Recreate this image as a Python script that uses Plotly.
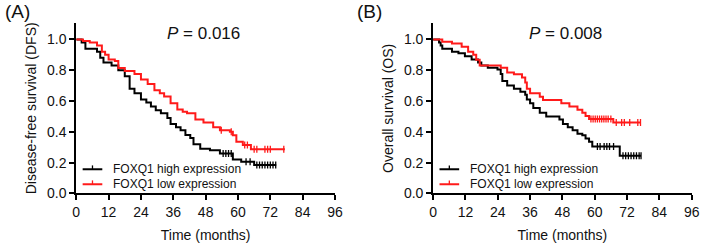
import numpy as np
import plotly.graph_objects as go

# ---------------- data ----------------
# Panel A: disease-free survival (step curves: time of drop, survival after drop; last = end of follow-up)
a_high_t = [0, 2, 3.4, 7.7, 8.9, 10.1, 13.1, 15.6, 18, 19.8, 21.6, 24, 26, 27.7, 29.5, 31.4, 33.8, 35, 37,
            38.7, 40.5, 42.3, 43.5, 46, 49.6, 53.3, 58.1, 61.2, 66, 74.2]
a_high_s = [1.0, 0.98, 0.94, 0.92, 0.88, 0.85, 0.83, 0.80, 0.76, 0.68, 0.65, 0.61, 0.59, 0.565, 0.54, 0.52, 0.49,
            0.45, 0.43, 0.41, 0.38, 0.36, 0.32, 0.29, 0.28, 0.26, 0.22, 0.205, 0.184, 0.184]
a_low_t = [0, 2.5, 5, 7.7, 9.5, 10.7, 12, 14.3, 15.6, 18, 21.6, 24, 26.5, 29, 31, 32.6, 35, 37.5, 39.5, 41.1,
           44.2, 47.2, 50.8, 53.3, 57, 58.1, 59.4, 61.8, 64.8, 77.4]
a_low_s = [1.0, 0.99, 0.98, 0.96, 0.92, 0.90, 0.87, 0.86, 0.815, 0.795, 0.775, 0.74, 0.71, 0.67, 0.65, 0.63,
           0.585, 0.545, 0.53, 0.52, 0.48, 0.46, 0.43, 0.41, 0.40, 0.377, 0.335, 0.314, 0.287, 0.287]
a_high_cens = [54.5, 55.5, 56.5, 57.5, 63, 64.5, 67, 68, 69, 70, 71, 72, 73, 74]
a_low_cens = [53.8, 57.5, 62.5, 63.5, 66, 67, 70, 71, 72, 77]

# Panel B: overall survival
b_high_t = [0, 2.2, 2.8, 3.4, 7, 9.4, 11.8, 14.3, 16.7, 17.9, 20.3, 23.9, 25.1, 25.7, 27.5, 30, 32.4, 34.2, 34.8,
            36, 37.2, 39.6, 42, 46.9, 48.2, 50, 51.8, 53.6, 55.4, 56.6, 57.9, 59.1, 69.3, 77.2]
b_high_s = [1.0, 0.98, 0.96, 0.94, 0.92, 0.91, 0.89, 0.87, 0.85, 0.83, 0.816, 0.805, 0.775, 0.73, 0.70, 0.68,
            0.66, 0.64, 0.61, 0.585, 0.555, 0.523, 0.50, 0.48, 0.45, 0.43, 0.41, 0.387, 0.377, 0.356, 0.335,
            0.305, 0.245, 0.245]
b_low_t = [0, 3.4, 7, 10.6, 13, 14.9, 16, 17.3, 25.1, 27.5, 30, 33, 34.2, 34.8, 36, 39.6, 40.8, 47.6, 50.6,
           53.6, 55.4, 56.6, 57.9, 66.9, 77]
b_low_s = [1.0, 0.985, 0.973, 0.952, 0.92, 0.90, 0.868, 0.83, 0.816, 0.785, 0.774, 0.753, 0.72, 0.68, 0.65,
           0.628, 0.607, 0.586, 0.565, 0.544, 0.523, 0.502, 0.483, 0.46, 0.46]
b_high_cens = [61, 62, 63.5, 64.5, 65.5, 67, 70.5, 71.5, 72.5, 73.5, 74.5, 75.5, 76.5, 77.2]
b_low_cens = [58.6, 59.4, 60.2, 61, 61.8, 62.6, 63.4, 64.2, 65, 66, 68, 70, 71, 73, 76, 77]

x_ticks = [0, 12, 24, 36, 48, 60, 72, 84, 96]
y_ticks = [0.0, 0.2, 0.4, 0.6, 0.8, 1.0]
series_names = ["FOXQ1 high expression", "FOXQ1 low expression"]
p_values = ["0.016", "0.008"]
y_titles = ["Disease-free survival (DFS)", "Overall survival (OS)"]
panel_labels = ["(A)", "(B)"]

# ---------------- styling ----------------
FONT = "Liberation Sans, Arial, sans-serif"
TXT = "#111111"
COLORS = ["#000000", "#ff1a1a"]
W, H = 709, 244


def step_value(t_list, s_list, t):
    idx = np.searchsorted(np.array(t_list), t, side="right") - 1
    return s_list[max(idx, 0)]


fig = go.Figure()
panels = [
    ([(a_high_t, a_high_s, a_high_cens), (a_low_t, a_low_s, a_low_cens)], "x", "y"),
    ([(b_high_t, b_high_s, b_high_cens), (b_low_t, b_low_s, b_low_cens)], "x2", "y2"),
]
for curves, xa, ya in panels:
    for i, (t, s, cens) in enumerate(curves):
        fig.add_trace(go.Scatter(x=t, y=s, mode="lines", line=dict(color=COLORS[i], width=2, shape="hv"),
                                 name=series_names[i], xaxis=xa, yaxis=ya, showlegend=False))
        fig.add_trace(go.Scatter(x=cens, y=[step_value(t, s, c) for c in cens], mode="markers",
                                 marker=dict(symbol="line-ns", size=5, line=dict(color=COLORS[i], width=1.3)),
                                 showlegend=False, hoverinfo="skip", xaxis=xa, yaxis=ya))

x_domains = [[73.5 / W, 336.7 / W], [436.5 / W, 699.5 / W]]
y_domain = [(H - 200) / H, (H - 24) / H]

axis_common = dict(showline=True, linecolor="black", linewidth=1.8, ticks="outside", ticklen=5, tickwidth=1.6,
                   tickcolor="black", showgrid=False, zeroline=False,
                   tickfont=dict(family=FONT, size=14, color=TXT))

layout = dict(width=W, height=H, margin=dict(l=0, r=0, t=0, b=0), plot_bgcolor="white", paper_bgcolor="white",
              font=dict(family=FONT, color=TXT), showlegend=False)
for k, (xa, ya) in enumerate([("xaxis", "yaxis"), ("xaxis2", "yaxis2")]):
    layout[xa] = dict(axis_common, domain=x_domains[k], range=[0, 96], tickvals=x_ticks,
                      anchor="y" if k == 0 else "y2",
                      title=dict(text="Time (months)", font=dict(family=FONT, size=14, color=TXT), standoff=11))
    layout[ya] = dict(axis_common, domain=y_domain, range=[0, 1.105], tickvals=y_ticks, tickformat=".1f",
                      anchor="x" if k == 0 else "x2",
                      title=dict(text=y_titles[k], font=dict(family=FONT, size=14, color=TXT), standoff=7))
fig.update_layout(**layout)

annotations = []
shapes = []
p_x = [203, 571]
label_x = [0, 358]
legend_rows = [175, 190.5]
for k in range(2):
    x0 = x_domains[k][0] * W
    annotations.append(dict(text=panel_labels[k], x=label_x[k] / W, y=1.0, xref="paper", yref="paper",
                            xanchor="left", yanchor="top", showarrow=False, borderpad=0,
                            font=dict(family=FONT, size=19, color=TXT)))
    annotations.append(dict(text="<i>P</i> = " + p_values[k], x=p_x[k] / W, y=(H - 35) / H, xref="paper",
                            yref="paper", xanchor="center", yanchor="middle", showarrow=False,
                            font=dict(family=FONT, size=17, color=TXT)))
    # legend (drawn by hand to match the compact row spacing)
    for i, name in enumerate(series_names):
        ypx = legend_rows[i]
        yp = (H - ypx) / H
        shapes.append(dict(type="line", xref="paper", yref="paper", x0=(x0 + 6.5) / W, x1=(x0 + 26.5) / W,
                           y0=yp, y1=yp, line=dict(color=COLORS[i], width=2)))
        shapes.append(dict(type="line", xref="paper", yref="paper", x0=(x0 + 16.5) / W, x1=(x0 + 16.5) / W,
                           y0=yp, y1=yp + 4 / H, line=dict(color=COLORS[i], width=1.3)))
        annotations.append(dict(text=name, x=(x0 + 35) / W, y=yp, xref="paper", yref="paper",
                                xanchor="left", yanchor="middle", showarrow=False,
                                font=dict(family=FONT, size=12, color=TXT)))
fig.update_layout(annotations=annotations, shapes=shapes)

fig.write_html("out.html", config={"displayModeBar": False},
               post_script="document.body.style.margin='0';document.body.style.overflow='hidden';")
